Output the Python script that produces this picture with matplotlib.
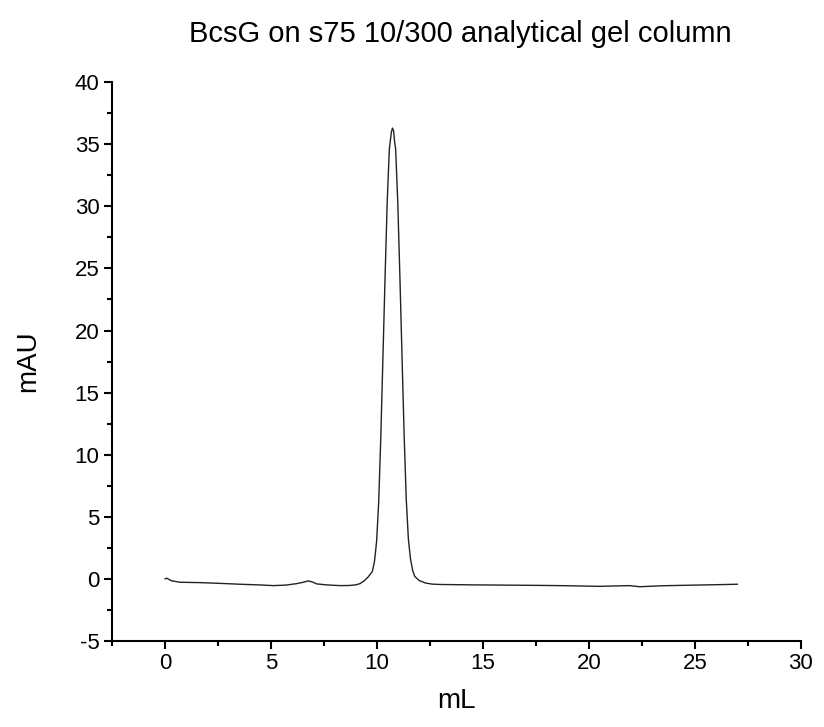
import numpy as np
import matplotlib
matplotlib.use("Agg")
import matplotlib.pyplot as plt
from matplotlib.ticker import MultipleLocator

plt.rcParams['font.family'] = ['Liberation Sans', 'DejaVu Sans']
plt.rcParams['axes.unicode_minus'] = False

# elution volume (mL) and absorbance (mAU)
volume = [0.0, 0.08, 0.3, 0.71, 1.65, 2.6, 3.54, 4.4, 5.11, 5.7, 6.21, 6.5, 6.76,
          6.95, 7.15, 7.6, 8.25, 8.7, 9.0, 9.2, 9.4, 9.58, 9.78, 9.88, 9.98,
          10.08, 10.18, 10.28, 10.38, 10.48, 10.58, 10.68, 10.73, 10.78, 10.83,
          10.88, 10.98, 11.08, 11.18, 11.28, 11.38, 11.48, 11.58, 11.68, 11.78,
          11.98, 12.28, 12.6, 13.0, 14.5, 16.0, 17.5, 19.0, 20.5, 21.9, 22.4,
          23.5, 25.0, 26.2, 27.0]
mau = [0.0, 0.06, -0.15, -0.27, -0.30, -0.36, -0.43, -0.48, -0.54, -0.50, -0.38,
       -0.28, -0.16, -0.25, -0.40, -0.48, -0.54, -0.53, -0.48, -0.38, -0.15,
       0.15, 0.6, 1.4, 3.0, 6.2, 11.5, 17.9, 24.3, 30.3, 34.6, 36.0, 36.3,
       36.1, 35.2, 34.6, 30.3, 24.3, 17.9, 11.6, 6.4, 3.2, 1.6, 0.7, 0.2,
       -0.12, -0.33, -0.42, -0.45, -0.48, -0.50, -0.52, -0.55, -0.60, -0.54,
       -0.63, -0.55, -0.50, -0.46, -0.43]

fig = plt.figure(figsize=(8.24, 7.27), dpi=100)
ax = fig.add_axes([0.136, 0.1183, 0.836, 0.7687])

ax.plot(volume, mau, color='#222222', lw=1.0)

ax.set_xlim(-2.5, 30)
ax.set_ylim(-5, 40)
ax.xaxis.set_major_locator(MultipleLocator(5))
ax.xaxis.set_minor_locator(MultipleLocator(2.5))
ax.yaxis.set_major_locator(MultipleLocator(5))
ax.yaxis.set_minor_locator(MultipleLocator(2.5))

for s in ['top', 'right']:
    ax.spines[s].set_visible(False)
for s in ['left', 'bottom']:
    ax.spines[s].set_linewidth(1.5)

ax.tick_params(which='major', direction='out', length=6, width=1.5, labelsize=16, pad=3)
ax.tick_params(which='minor', direction='out', length=3.5, width=1.5)

ax.set_xlabel('mL', fontsize=20, labelpad=10)
ax.set_ylabel('mAU', fontsize=20, labelpad=24)
ax.set_title('BcsG on s75 10/300 analytical gel column', fontsize=21, pad=29, x=0.505)

fig.savefig('out.png', dpi=100)
